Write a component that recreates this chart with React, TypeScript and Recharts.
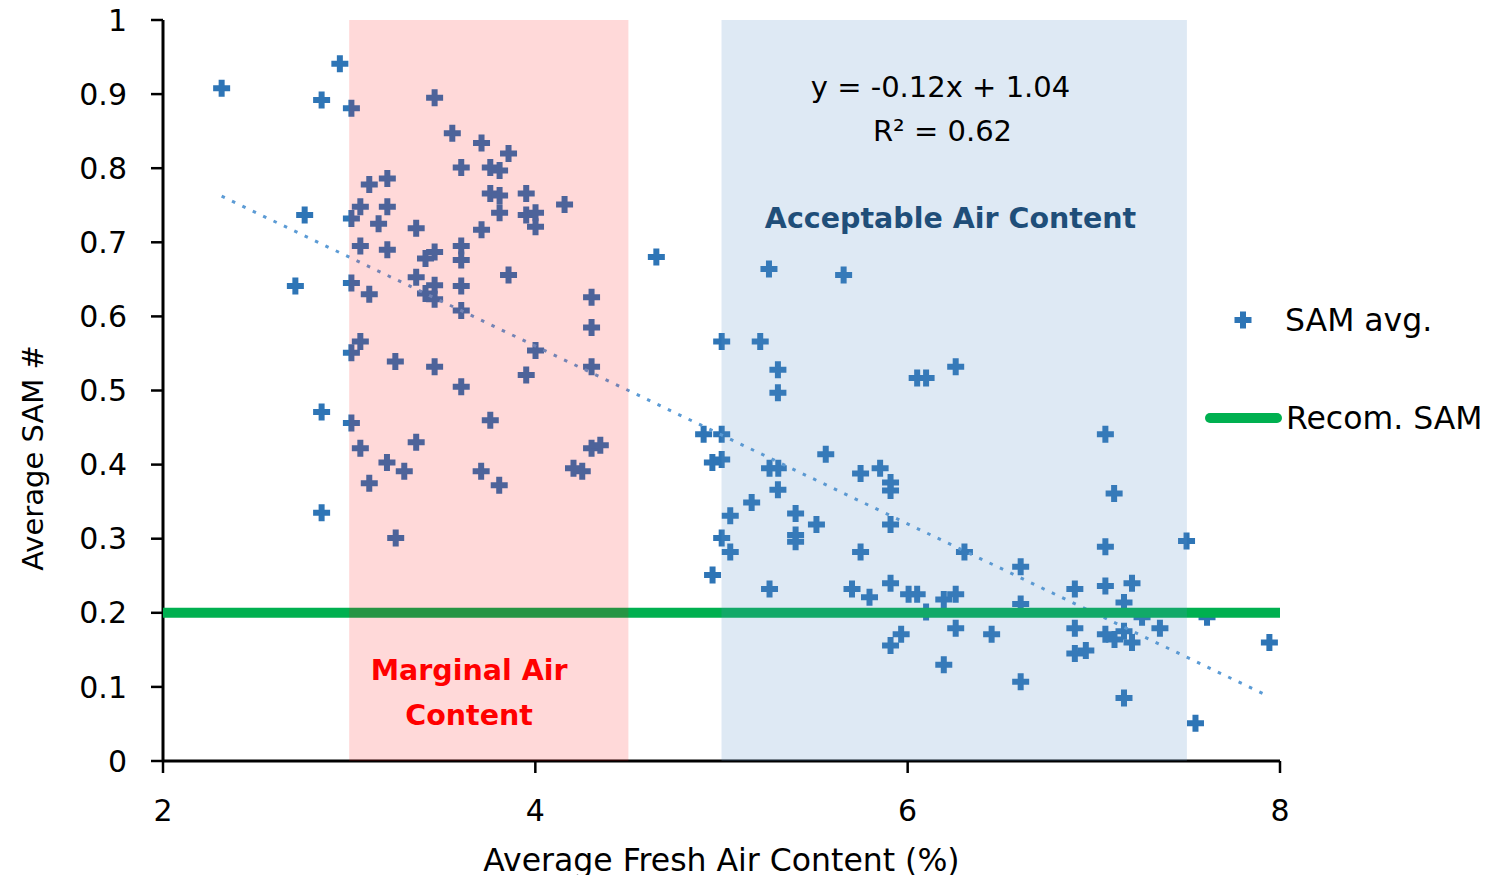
import React from 'react';
import { ScatterChart, Scatter, XAxis, YAxis, ReferenceArea, Legend, Label } from 'recharts';

// Average fresh air content (%) per sample
const freshAir: number[] = [
  2.315, 2.95, 2.852, 3.012, 3.459, 3.554, 3.711, 3.856, 3.602, 3.758, 3.808, 3.108,
  3.205, 3.758, 3.808, 3.951, 4.157, 3.06, 3.205, 2.761, 3.012, 3.808, 3.951, 4.001,
  4.001, 3.158, 3.36, 3.711, 3.06, 3.205, 3.459, 3.41, 3.602, 3.602, 3.36, 3.41,
  3.459, 3.459, 2.711, 3.012, 3.108, 3.602, 3.856, 3.602, 4.302, 4.302, 3.06, 3.012,
  3.248, 3.459, 4.001, 3.951, 3.602, 4.302, 2.852, 3.012, 3.06, 3.36, 3.203, 3.296,
  3.108, 3.758, 3.709, 3.806, 4.205, 4.252, 4.302, 4.349, 2.852, 3.25, 4.65,
  5.255, 5.656, 5.001, 5.208, 5.303, 5.303, 6.051, 6.099, 6.258, 4.904, 5.001, 4.951,
  5.001, 5.258, 5.305, 5.56, 5.303, 5.162, 5.747, 5.852, 5.908, 5.908, 5.047, 5.398,
  5.51, 5.908, 5.001, 5.047, 5.398, 5.398, 5.747, 6.305, 4.952, 5.258, 5.701, 5.908,
  5.795, 6.005, 6.051, 6.099, 6.194, 6.258, 7.062, 7.109, 7.062, 7.498, 6.607, 6.607,
  6.898, 7.062, 7.205, 7.162, 7.259, 7.608, 5.965, 5.908, 6.258, 6.451, 6.898, 7.062,
  7.111, 7.162, 7.205, 7.355, 6.194, 6.898, 6.957, 6.607, 7.162, 7.546, 7.943,
];

// Average SAM number per sample (same order as freshAir)
const samAvg: number[] = [
  0.908, 0.941, 0.892, 0.881, 0.895, 0.847, 0.834, 0.82, 0.801, 0.801, 0.797, 0.778,
  0.786, 0.766, 0.763, 0.766, 0.751, 0.748, 0.748, 0.737, 0.732, 0.74, 0.737, 0.74,
  0.721, 0.725, 0.719, 0.717, 0.695, 0.69, 0.687, 0.678, 0.695, 0.676, 0.653, 0.631,
  0.642, 0.623, 0.641, 0.645, 0.63, 0.641, 0.656, 0.608, 0.626, 0.585, 0.566, 0.551,
  0.539, 0.532, 0.554, 0.521, 0.505, 0.532, 0.471, 0.456, 0.422, 0.43, 0.403, 0.391,
  0.375, 0.46, 0.391, 0.372, 0.395, 0.391, 0.422, 0.426, 0.335, 0.301, 0.68,
  0.664, 0.656, 0.566, 0.566, 0.528, 0.497, 0.517, 0.517, 0.532, 0.441, 0.441, 0.403,
  0.407, 0.395, 0.395, 0.414, 0.366, 0.349, 0.388, 0.395, 0.376, 0.365, 0.331, 0.334,
  0.319, 0.319, 0.301, 0.282, 0.305, 0.296, 0.282, 0.282, 0.251, 0.232, 0.232, 0.24,
  0.221, 0.225, 0.225, 0.201, 0.218, 0.225, 0.441, 0.361, 0.289, 0.297, 0.262, 0.212,
  0.232, 0.236, 0.24, 0.214, 0.194, 0.194, 0.171, 0.156, 0.179, 0.171, 0.179, 0.171,
  0.164, 0.175, 0.16, 0.179, 0.13, 0.145, 0.149, 0.107, 0.085, 0.051, 0.16,
];

const xTicks = [2, 4, 6, 8];
const xMinorTicks = [2, 2.5, 3, 3.5, 4, 4.5, 5, 5.5, 6, 6.5, 7, 7.5, 8];
const yTicks = [0, 0.1, 0.2, 0.3, 0.4, 0.5, 0.6, 0.7, 0.8, 0.9, 1];
const xDomain = [2, 8];
const yDomain = [0, 1];

// Recommended SAM limit and the linear fit of SAM vs air content
const recomSam = 0.2;
const trendSlope = -0.12;
const trendIntercept = 1.04;
const trendR2 = 0.62;

// Air content zones
const marginalZone = [3, 4.5];
const acceptableZone = [5, 7.5];

const FONT = '"DejaVu Sans", sans-serif';
const BLUE = '#2e75b6';
const GREEN = '#00b050';

const samPoints = freshAir.map((x, i) => ({ x, y: samAvg[i] }));
const xMin = Math.min(...freshAir);
const xMax = Math.max(...freshAir);
const trendPoints = [xMin, xMax].map((x) => ({ x, y: trendSlope * x + trendIntercept }));
const recomPoints = xDomain.map((x) => ({ x, y: recomSam }));

const plusPath = (cx: number, cy: number, h: number, t: number) =>
  `M${cx - t},${cy - h}H${cx + t}V${cy - t}H${cx + h}V${cy + t}H${cx + t}V${cy + h}` +
  `H${cx - t}V${cy + t}H${cx - h}V${cy - t}H${cx - t}Z`;

const PlusMark = (props: any) => {
  const { cx, cy } = props;
  if (cx == null || cy == null) return <g />;
  return <path d={plusPath(cx, cy, 8.5, 3)} fill={BLUE} />;
};

const NoMark = () => <g />;

const fmtY = (v: number) => String(Math.round(v * 10) / 10);

const AcceptableLabel = (props: any) => {
  const vb = props.viewBox;
  if (!vb) return null;
  const sign = trendIntercept >= 0 ? '+' : '-';
  return (
    <g fontFamily={FONT}>
      <text x={vb.x + 219} y={vb.y + 77} textAnchor="middle" fontSize={29} fill="#000">
        {`y = ${trendSlope.toFixed(2)}x ${sign} ${Math.abs(trendIntercept).toFixed(2)}`}
      </text>
      <text x={vb.x + 221} y={vb.y + 121} textAnchor="middle" fontSize={29} fill="#000">
        {`R² = ${trendR2.toFixed(2)}`}
      </text>
      <text x={vb.x + 229} y={vb.y + 208} textAnchor="middle" fontSize={28.5} fontWeight="bold" fill="#1f4e79">
        Acceptable Air Content
      </text>
    </g>
  );
};

const MarginalLabel = (props: any) => {
  const vb = props.viewBox;
  if (!vb) return null;
  return (
    <g fontFamily={FONT} fontWeight="bold" fontSize={28.5} fill="#ff0000" textAnchor="middle">
      <text x={vb.x + 120} y={vb.y + 660}>Marginal Air</text>
      <text x={vb.x + 120} y={vb.y + 705}>Content</text>
    </g>
  );
};

const XTitle = (props: any) => {
  const vb = props.viewBox;
  if (!vb) return null;
  return (
    <text x={vb.x + vb.width / 2} y={vb.y + 110} textAnchor="middle" fontFamily={FONT} fontSize={31.5} fill="#000">
      Average Fresh Air Content (%)
    </text>
  );
};

const YTitle = () => {
  const x = 35;
  const y = 450;
  return (
    <text x={x} y={y} transform={`rotate(-90 ${x} ${y})`} textAnchor="middle" fontFamily={FONT} fontSize={29} fill="#000">
      Average SAM #
    </text>
  );
};

const LegendContent = (props: any) => {
  const items = (props.payload || [])
    .filter((p: any) => p.type !== 'none')
    .sort((a: any, b: any) => (a.type === 'line' ? 1 : 0) - (b.type === 'line' ? 1 : 0));
  return (
    <svg width={320} height={160} style={{ overflow: 'visible' }}>
      {items.map((p: any, i: number) => {
        const cy = 22 + i * 98;
        return (
          <g key={p.value}>
            {p.type === 'line' ? (
              <line x1={30} y1={cy} x2={97} y2={cy} stroke={p.color} strokeWidth={10} strokeLinecap="round" />
            ) : (
              <path d={plusPath(63, cy, 8.5, 3)} fill={p.color} />
            )}
            <text x={p.type === 'line' ? 106 : 105} y={cy + 11} fontFamily={FONT} fontSize={31.5} fill="#000">
              {p.value}
            </text>
          </g>
        );
      })}
    </svg>
  );
};

export default function App() {
  return (
    <div>
      <style>{'.recharts-wrapper, .recharts-wrapper svg.recharts-surface{overflow:visible !important}'}</style>
      <ScatterChart width={1485} height={867} margin={{ top: 12, right: 213, bottom: 54, left: 0 }}>
        <XAxis
          type="number"
          dataKey="x"
          domain={xDomain}
          ticks={xTicks}
          interval={0}
          height={60}
          tickSize={12}
          tickMargin={27}
          axisLine={{ stroke: '#000', strokeWidth: 3 }}
          tickLine={{ stroke: '#000', strokeWidth: 2.5 }}
          tick={{ fontFamily: FONT, fontSize: 30, fill: '#000' }}
        >
          <Label content={XTitle} />
        </XAxis>
        <XAxis
          xAxisId="minor"
          type="number"
          domain={xDomain}
          ticks={xMinorTicks}
          interval={0}
          mirror
          height={12}
          tickSize={11}
          axisLine={false}
          tick={false}
          tickLine={{ stroke: '#000', strokeWidth: 2.5 }}
        />
        <YAxis
          type="number"
          dataKey="y"
          domain={yDomain}
          ticks={yTicks}
          interval={0}
          width={155}
          tickSize={12}
          tickMargin={24}
          tickFormatter={fmtY}
          axisLine={{ stroke: '#000', strokeWidth: 3 }}
          tickLine={{ stroke: '#000', strokeWidth: 2.5 }}
          tick={{ fontFamily: FONT, fontSize: 30, fill: '#000' }}
        >
          <Label content={YTitle} />
        </YAxis>
        <Scatter
          name="SAM avg."
          data={samPoints}
          fill={BLUE}
          legendType="cross"
          shape={PlusMark}
          isAnimationActive={false}
        />
        <Scatter
          name="Linear (SAM avg.)"
          data={trendPoints}
          fill="#5b9bd5"
          legendType="none"
          line={{ stroke: '#5b9bd5', strokeWidth: 3, strokeDasharray: '3.5 8' }}
          lineType="joint"
          shape={NoMark}
          isAnimationActive={false}
        />
        <Scatter
          name="Recom. SAM"
          data={recomPoints}
          fill={GREEN}
          legendType="line"
          line={{ stroke: GREEN, strokeWidth: 10 }}
          lineType="joint"
          shape={NoMark}
          isAnimationActive={false}
        />
        <ReferenceArea
          x1={acceptableZone[0]}
          x2={acceptableZone[1]}
          y1={yDomain[0]}
          y2={yDomain[1]}
          fill="#5b8fc9"
          fillOpacity={0.2}
          stroke="none"
          zIndex={650}
          label={<AcceptableLabel />}
        />
        <ReferenceArea
          x1={marginalZone[0]}
          x2={marginalZone[1]}
          y1={yDomain[0]}
          y2={yDomain[1]}
          fill="#ff0000"
          fillOpacity={0.15}
          stroke="none"
          zIndex={650}
          label={<MarginalLabel />}
        />
        <Legend
          layout="horizontal"
          align="center"
          verticalAlign="middle"
          content={LegendContent}
          wrapperStyle={{ left: 1172, top: 290, width: 320, height: 160 }}
        />
      </ScatterChart>
    </div>
  );
}
